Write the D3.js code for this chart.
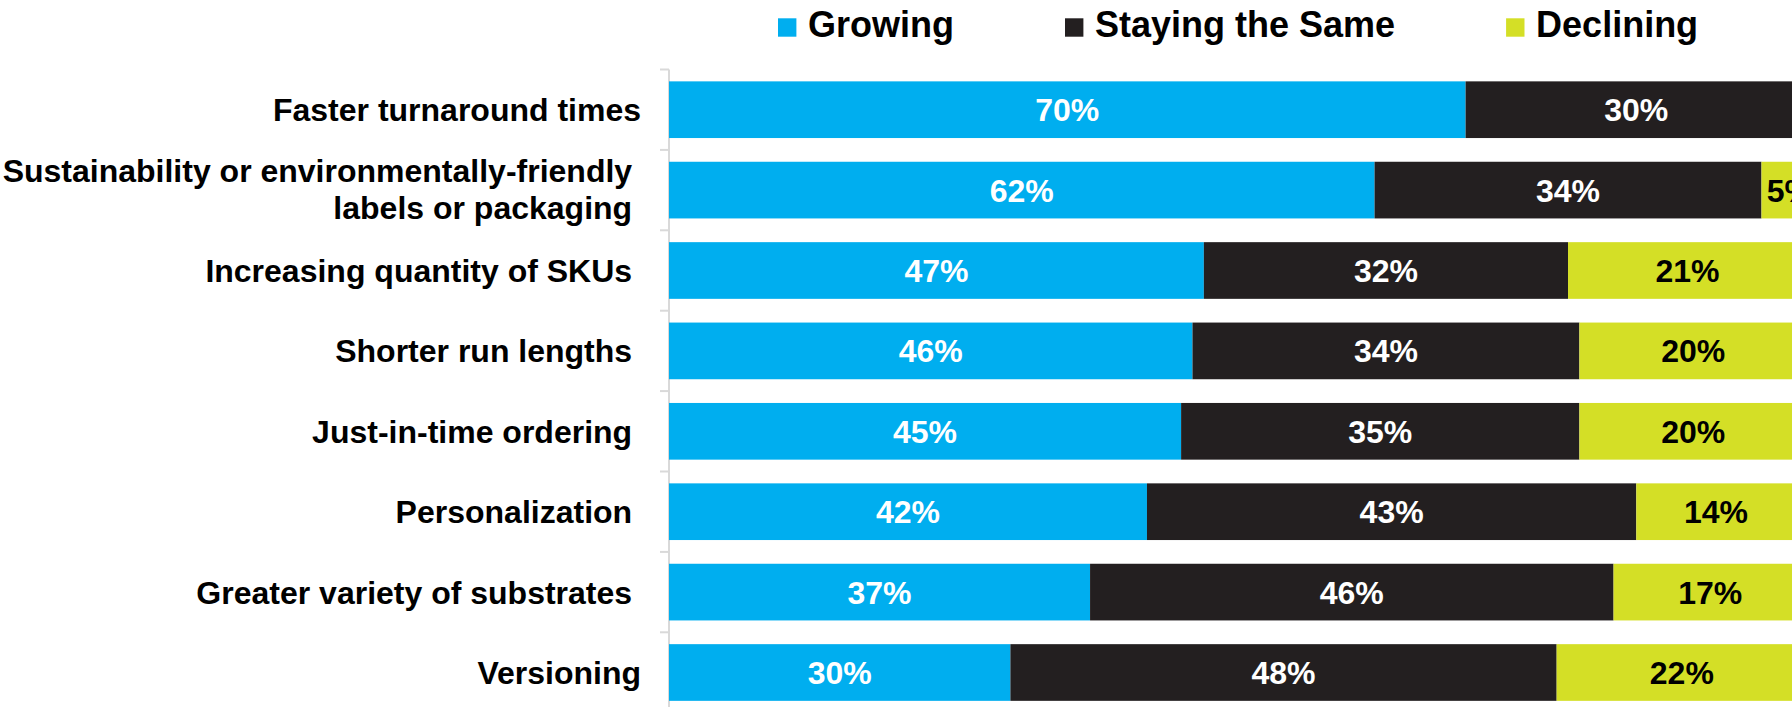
<!DOCTYPE html>
<html>
<head>
<meta charset="utf-8">
<script src="https://cdn.jsdelivr.net/npm/d3@7/dist/d3.min.js"></script>
<style>
  html, body { margin: 0; padding: 0; background: #ffffff; }
  svg { display: block; }
  text { font-family: Arial, "Liberation Sans", Helvetica, sans-serif; font-weight: bold; white-space: pre; }
</style>
</head>
<body>
<svg id="chart" width="1792" height="707"></svg>
<script>
// Categories (top to bottom); "\n" marks a line break, trailing spaces are kept as typed
const categories = [
  "Faster turnaround times",
  "Sustainability or environmentally-friendly \nlabels or packaging ",
  "Increasing quantity of SKUs ",
  "Shorter run lengths ",
  "Just-in-time ordering ",
  "Personalization ",
  "Greater variety of substrates ",
  "Versioning"
];

// Share of respondents, in percent
const growing   = [70, 62, 47, 46, 45, 42, 37, 30];
const staying   = [30, 34, 32, 34, 35, 43, 46, 48];
const declining = [0, 5, 21, 20, 20, 14, 17, 22];

const seriesNames  = ["Growing", "Staying the Same", "Declining"];
const seriesColors = ["#00AEEF", "#231F20", "#D4DF26"];
const labelColors  = ["#ffffff", "#ffffff", "#000000"];

const svg = d3.select("#chart");

// Rows for the stack
const rows = categories.map((c, i) => ({
  category: c,
  "Growing": growing[i],
  "Staying the Same": staying[i],
  "Declining": declining[i]
}));
const stacked = d3.stack().keys(seriesNames)(rows);

// Scales
const x = d3.scaleLinear().domain([0, 100]).range([669, 1807]);
const y = d3.scaleBand()
  .domain(categories)
  .range([69.5, 712.7])
  .paddingInner(0.295)
  .paddingOuter(0.1475);

// Category axis: light vertical rule with ticks between rows
const axisG = svg.append("g");
const boundaries = categories.map(c => y(c) + y.bandwidth() / 2 - y.step() / 2);
boundaries.push(boundaries[boundaries.length - 1] + y.step());
axisG.append("line")
  .attr("x1", x(0)).attr("x2", x(0))
  .attr("y1", boundaries[0]).attr("y2", boundaries[boundaries.length - 1])
  .attr("stroke", "#d9d9d9").attr("stroke-width", 2);
axisG.selectAll("line.tick")
  .data(boundaries)
  .join("line")
  .attr("class", "tick")
  .attr("x1", x(0) - 9).attr("x2", x(0))
  .attr("y1", d => d).attr("y2", d => d)
  .attr("stroke", "#d9d9d9").attr("stroke-width", 2);

// Category labels
const catLabels = svg.append("g")
  .selectAll("text")
  .data(categories)
  .join("text")
  .attr("xml:space", "preserve")
  .attr("text-anchor", "end")
  .attr("font-size", 32)
  .attr("fill", "#000000");
catLabels.each(function(c) {
  const lines = c.split("\n");
  const cy = y(c) + y.bandwidth() / 2;
  const lineH = 37.3;
  const first = cy + 11.5 - (lines.length - 1) * lineH / 2 - (lines.length > 1 ? 1 : 0);
  d3.select(this).selectAll("tspan")
    .data(lines)
    .join("tspan")
    .attr("x", 641)
    .attr("y", (d, i) => first + i * lineH)
    .text(d => d);
});

// Bars
const layers = svg.append("g")
  .selectAll("g")
  .data(stacked)
  .join("g")
  .attr("fill", (d, i) => seriesColors[i]);
layers.selectAll("rect")
  .data(d => d.filter(s => s[1] - s[0] > 0))
  .join("rect")
  .attr("x", d => x(d[0]))
  .attr("y", d => y(d.data.category))
  .attr("width", d => x(d[1]) - x(d[0]))
  .attr("height", y.bandwidth());

// Value labels centred in each segment
const valueLayers = svg.append("g")
  .selectAll("g")
  .data(stacked)
  .join("g")
  .attr("fill", (d, i) => labelColors[i]);
valueLayers.selectAll("text")
  .data(d => d.filter(s => s[1] - s[0] > 0))
  .join("text")
  .attr("text-anchor", "middle")
  .attr("font-size", 32)
  .attr("x", d => (x(d[0]) + x(d[1])) / 2)
  .attr("y", d => y(d.data.category) + y.bandwidth() / 2 + 11.5)
  .text(d => `${d[1] - d[0]}%`);

// Legend across the top
const legend = svg.append("g");
let lx = 778;
seriesNames.forEach((name, i) => {
  const g = legend.append("g");
  g.append("rect")
    .attr("x", lx).attr("y", 18.3)
    .attr("width", 18.4).attr("height", 18.4)
    .attr("fill", seriesColors[i]);
  const t = g.append("text")
    .attr("x", lx + 30)
    .attr("y", 37)
    .attr("font-size", 36)
    .attr("fill", "#000000")
    .text(name);
  lx = lx + 30 + t.node().getComputedTextLength() + 111;
});
</script>
</body>
</html>
